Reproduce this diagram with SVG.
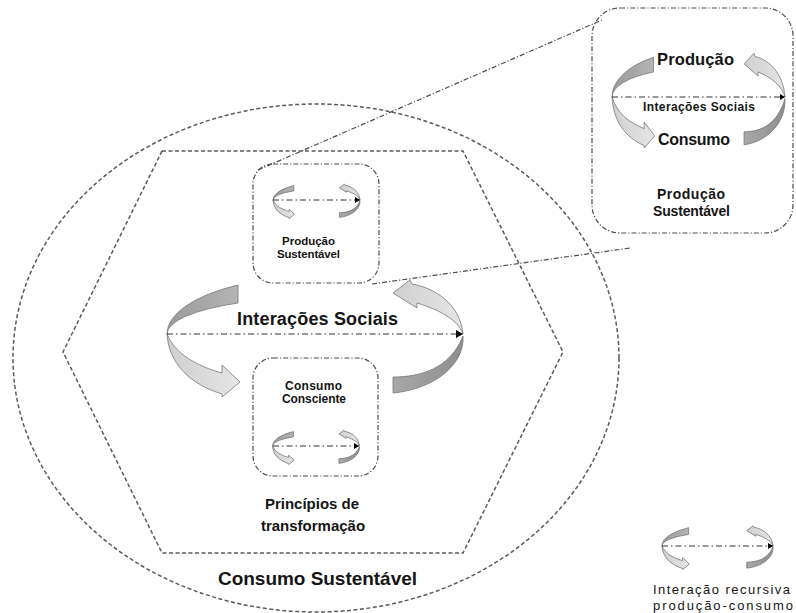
<svg xmlns="http://www.w3.org/2000/svg" xmlns:xlink="http://www.w3.org/1999/xlink" width="796" height="613" viewBox="0 0 796 613">
<style>
.dash{fill:none;stroke:#5a5a5a;stroke-width:1.5;stroke-dasharray:4 2.5}
.dd{fill:none;stroke:#4d4d4d;stroke-width:1.2;stroke-dasharray:5 2 1.2 2}
.axis{fill:none;stroke:#333;stroke-width:1;stroke-dasharray:6 3 1.5 3}
.band{stroke:#777;stroke-width:0.8;vector-effect:non-scaling-stroke}
.t{font-family:"Liberation Sans",Arial,sans-serif;font-weight:bold;fill:#151515;text-anchor:middle}
.n{font-family:"Liberation Sans",Arial,sans-serif;fill:#151515;text-anchor:middle}
</style>
<defs>
<linearGradient id="gDark" x1="0" y1="0" x2="1" y2="0">
<stop offset="0" stop-color="#9a9a9a"/><stop offset="1" stop-color="#b4b4b4"/>
</linearGradient>
<linearGradient id="gDark2" x1="0" y1="0" x2="1" y2="0">
<stop offset="0" stop-color="#a8a8a8"/><stop offset="1" stop-color="#8e8e8e"/>
</linearGradient>
<linearGradient id="gLight" x1="0" y1="0" x2="1" y2="0">
<stop offset="0" stop-color="#cfcfcf"/><stop offset="1" stop-color="#e6e6e6"/>
</linearGradient>
<marker id="triL" markerUnits="userSpaceOnUse" markerWidth="8" markerHeight="8" refX="7" refY="4" orient="auto">
<path d="M0,0 L7,4 L0,8 Z" fill="#000"/>
</marker>
<marker id="triS" markerUnits="userSpaceOnUse" markerWidth="6" markerHeight="6" refX="5" refY="3" orient="auto">
<path d="M0,0 L5,3 L0,6 Z" fill="#000"/>
</marker>
<g id="cyc">
<path class="band" fill="url(#gDark)" d="M-77,-49 A148,57.4 0 0 0 -148,0 A148,36.3 0 0 1 -77,-31 Z"/>
<path class="band" fill="url(#gLight)" d="M-148,0 C-146,30 -125,50 -93,60 L-93,63 L-75,48 L-93,31 L-93,39 C-118,32 -140,20 -148,0 Z"/>
<path class="band" fill="url(#gLight)" d="M148,0 C145,-30 120,-46 97,-50 L95,-54 L78,-41 L102,-26 L102,-31 C125,-24 143,-14 148,0 Z"/>
<path class="band" fill="url(#gDark2)" d="M148,2 C150,30 120,55 78,59 L78,43 C105,43 135,35 148,2 Z"/>
</g>
</defs>

<g id="consumo-sustentavel">
<ellipse class="dash" cx="316" cy="358" rx="303" ry="254"/>
<text class="t" x="317.5" y="585" font-size="19" textLength="199">Consumo Sustentável</text>
</g>

<g id="principios">
<polygon class="dash" points="162,151 463,151 563,352 463,553 162,553 63,352"/>
<text class="t" x="312" y="509" font-size="15">Princípios de</text>
<text class="t" x="313" y="531" font-size="15">transformação</text>
</g>

<g id="interacoes-sociais">
<use xlink:href="#cyc" transform="translate(315,334)"/>
<line class="axis" x1="167" y1="334" x2="463" y2="334" marker-end="url(#triL)"/>
<text class="t" x="317.5" y="325" font-size="18" textLength="161">Interações Sociais</text>
</g>

<g id="producao-sustentavel">
<rect class="dd" x="253" y="164" width="126" height="119" rx="20"/>
<use xlink:href="#cyc" transform="translate(316.5,200) scale(0.294)"/>
<line class="axis" x1="273" y1="200" x2="360" y2="200" marker-end="url(#triS)"/>
<text class="t" x="308.5" y="245" font-size="11.5" textLength="53">Produção</text>
<text class="t" x="308.5" y="258" font-size="11.5" textLength="63">Sustentável</text>
</g>

<g id="consumo-consciente">
<rect class="dd" x="253" y="358" width="125" height="118" rx="20"/>
<text class="t" x="313.5" y="390" font-size="12" textLength="57">Consumo</text>
<text class="t" x="314" y="403" font-size="12" textLength="64">Consciente</text>
<use xlink:href="#cyc" transform="translate(316,446) scale(0.294)"/>
<line class="axis" x1="273" y1="446" x2="359" y2="446" marker-end="url(#triS)"/>
</g>

<g id="inset-producao-sustentavel">
<rect class="dd" x="592" y="8" width="201" height="225" rx="28"/>
<use xlink:href="#cyc" transform="translate(698.5,97) scale(0.584,0.81)"/>
<line class="axis" x1="612" y1="97" x2="785" y2="97" marker-end="url(#triS)"/>
<text class="t" x="695.5" y="65" font-size="16.5" textLength="77">Produção</text>
<text class="t" x="699" y="111" font-size="12" textLength="112">Interações Sociais</text>
<text class="t" x="694" y="145" font-size="16" textLength="72">Consumo</text>
<text class="t" x="691" y="199" font-size="14" textLength="68">Produção</text>
<text class="t" x="691.5" y="216" font-size="14" textLength="77">Sustentável</text>
</g>

<g id="legenda">
<use xlink:href="#cyc" transform="translate(717.5,546) scale(0.375)"/>
<line class="axis" x1="662" y1="546" x2="773" y2="546" marker-end="url(#triS)"/>
<text class="n" x="721.5" y="594" font-size="13" textLength="137">Interação recursiva</text>
<text class="n" x="723" y="609.5" font-size="13" textLength="140">produção-consumo</text>
</g>

<g id="connectors">
<line class="dd" x1="258" y1="170" x2="602" y2="20"/>
<line class="dd" x1="372" y1="284" x2="630" y2="248"/>
</g>
</svg>
